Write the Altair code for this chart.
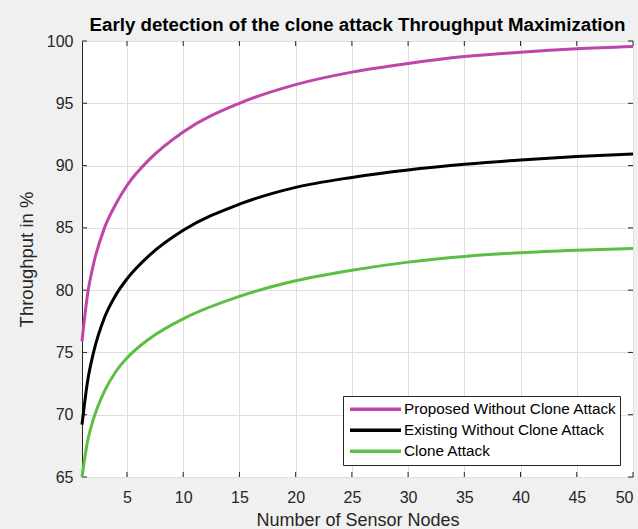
import altair as alt
import pandas as pd

# ---- data ----
nodes = [1, 1.5, 2, 3, 4, 5, 7, 10, 15, 20, 25, 30, 35, 40, 45, 50]
proposed = [75.9, 79.7, 82.0, 85.0, 86.9, 88.4, 90.5, 92.7, 95.0, 96.5, 97.5, 98.2, 98.75, 99.1, 99.37, 99.55]
existing = [69.2, 72.7, 74.9, 77.8, 79.6, 80.9, 82.8, 84.8, 86.9, 88.25, 89.05, 89.65, 90.1, 90.45, 90.72, 90.92]
clone = [65.0, 67.9, 69.6, 71.9, 73.45, 74.55, 76.1, 77.7, 79.5, 80.75, 81.6, 82.25, 82.7, 83.0, 83.2, 83.35]

series_names = ["Proposed Without Clone Attack", "Existing Without Clone Attack", "Clone Attack"]
series_colors = ["#bf45ab", "#000000", "#5cbf45"]

x_ticks = [5, 10, 15, 20, 25, 30, 35, 40, 45, 50]
y_ticks = [65, 70, 75, 80, 85, 90, 95, 100]

rows = []
for name, vals in zip(series_names, [proposed, existing, clone]):
    for xv, yv in zip(nodes, vals):
        rows.append({"nodes": xv, "throughput": yv, "series": name})
df = pd.DataFrame(rows)

FONT = "Liberation Sans"
AX = "#262626"
W, H = 551, 436
X_TITLE = "Number of Sensor Nodes"
Y_TITLE = "Throughput in %"

x_scale = alt.Scale(domain=[1, 50], nice=False, zero=False)
y_scale = alt.Scale(domain=[65, 100], nice=False, zero=False)

x_axis = alt.Axis(values=x_ticks, grid=True, gridColor="#dedede", domain=False, ticks=False, tickSize=0,
                  labelFont=FONT, labelFontSize=16, labelColor=AX, labelPadding=12,
                  titleFont=FONT, titleFontSize=18, titleFontWeight="normal", titleColor=AX,
                  titleY=48, titleBaseline="alphabetic")
y_axis = alt.Axis(values=y_ticks, grid=True, gridColor="#dedede", domain=False, ticks=False, tickSize=0,
                  labelFont=FONT, labelFontSize=16, labelColor=AX, labelPadding=9,
                  titleFont=FONT, titleFontSize=18.5, titleFontWeight="normal", titleColor=AX,
                  titleX=-50, titleY=H / 2, titleAngle=270, titleBaseline="alphabetic", titleAlign="center")

lines = alt.Chart(df).mark_line(strokeWidth=3, interpolate="monotone").encode(
    x=alt.X("nodes:Q", title=X_TITLE, scale=x_scale, axis=x_axis),
    y=alt.Y("throughput:Q", title=Y_TITLE, scale=y_scale, axis=y_axis),
    color=alt.Color("series:N", scale=alt.Scale(domain=series_names, range=series_colors),
                    legend=alt.Legend(title=None, orient="none", legendX=261, legendY=355,
                                      symbolType="stroke", symbolSize=2601, symbolStrokeWidth=3.5,
                                      clipHeight=20.5, padding=3, rowPadding=0, symbolOffset=2,
                                      labelOffset=1, labelFont=FONT, labelFontSize=15.3,
                                      labelColor="#000000", labelLimit=400,
                                      strokeColor=AX, fillColor="white")),
)

xt = pd.DataFrame({"xt": x_ticks})
yt = pd.DataFrame({"yt": y_ticks})

tick_bottom = alt.Chart(xt).mark_rule(color=AX, strokeWidth=1).encode(
    x=alt.X("xt:Q", title=X_TITLE), y=alt.value(H), y2=alt.value(H - 5))
tick_top = alt.Chart(xt).mark_rule(color=AX, strokeWidth=1).encode(
    x=alt.X("xt:Q", title=X_TITLE), y=alt.value(0), y2=alt.value(5))
tick_left = alt.Chart(yt).mark_rule(color=AX, strokeWidth=1).encode(
    y=alt.Y("yt:Q", title=Y_TITLE), x=alt.value(0), x2=alt.value(5))
tick_right = alt.Chart(yt).mark_rule(color=AX, strokeWidth=1).encode(
    y=alt.Y("yt:Q", title=Y_TITLE), x=alt.value(W), x2=alt.value(W - 5))

chart = alt.layer(tick_bottom, tick_top, tick_left, tick_right, lines).properties(
    width=W, height=H,
    title=alt.TitleParams("Early detection of the clone attack Throughput Maximization",
                          font=FONT, fontSize=18.7, fontWeight="bold", color="#000000",
                          anchor="middle", frame="group", baseline="alphabetic", offset=6, dy=23),
    autosize=alt.AutoSizeParams(type="none"),
    padding={"left": 82, "top": 41, "right": 5, "bottom": 52},
    background="#f0f0f0",
).configure_view(fill="white", stroke=AX, strokeWidth=1)

chart.save("out.html", embed_options={"renderer": "svg", "actions": False})
